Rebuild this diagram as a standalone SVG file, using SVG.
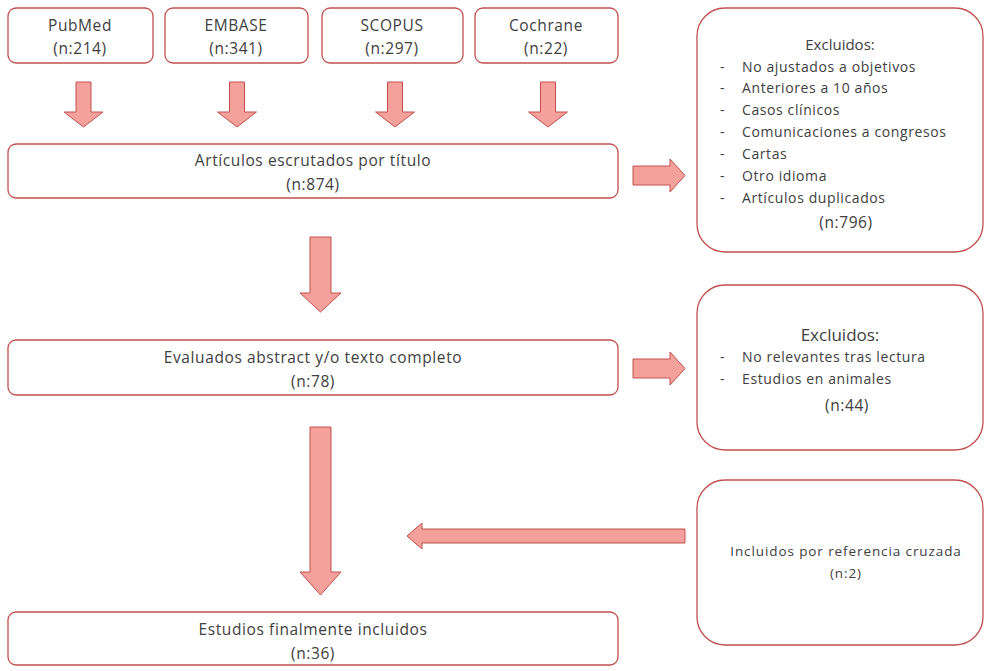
<svg xmlns="http://www.w3.org/2000/svg" width="987" height="671" viewBox="0 0 987 671">
<style>
.box{fill:#fff;stroke:#c0504d;stroke-width:1.3}
.arr{fill:#f4a19c;stroke:#c0504d;stroke-width:1}
text{font-family:"Open Sans","Liberation Sans",sans-serif;fill:#404040;text-anchor:middle}
.t{font-size:15.5px;letter-spacing:0.6px}
.e{font-size:15px}
.s{font-size:14px;letter-spacing:0.6px;text-anchor:start}
.h{font-size:17px}
.x{font-size:13.5px;letter-spacing:0.9px}
</style>
<rect width="987" height="671" fill="#fff"/>
<g id="pubmed"><rect class="box" x="8" y="8" width="145" height="55" rx="8"/><text class="t" x="80" y="31">PubMed</text><text class="t" x="80" y="54">(n:214)</text></g>
<g id="embase"><rect class="box" x="165" y="8" width="143" height="55" rx="8"/><text class="t" x="236" y="31">EMBASE</text><text class="t" x="236" y="54">(n:341)</text></g>
<g id="scopus"><rect class="box" x="322" y="8" width="141" height="55" rx="8"/><text class="t" x="392" y="31">SCOPUS</text><text class="t" x="392" y="54">(n:297)</text></g>
<g id="cochrane"><rect class="box" x="475" y="8" width="143" height="55" rx="8"/><text class="t" x="546" y="31">Cochrane</text><text class="t" x="546" y="54">(n:22)</text></g>
<g id="escrutados"><rect class="box" x="8" y="144" width="610" height="54" rx="8"/><text class="t" x="313" y="166">Artículos escrutados por título</text><text class="t" x="313" y="190">(n:874)</text></g>
<g id="excluidos1"><rect class="box" x="697" y="8" width="286" height="244" rx="28"/>
<text class="e" x="840" y="50">Excluidos:</text>
<text class="s" x="720" y="72">-</text><text class="s" x="742" y="72">No ajustados a objetivos</text>
<text class="s" x="720" y="93">-</text><text class="s" x="742" y="93">Anteriores a 10 años</text>
<text class="s" x="720" y="115">-</text><text class="s" x="742" y="115">Casos clínicos</text>
<text class="s" x="720" y="137">-</text><text class="s" x="742" y="137">Comunicaciones a congresos</text>
<text class="s" x="720" y="159">-</text><text class="s" x="742" y="159">Cartas</text>
<text class="s" x="720" y="181">-</text><text class="s" x="742" y="181">Otro idioma</text>
<text class="s" x="720" y="203">-</text><text class="s" x="742" y="203">Artículos duplicados</text>
<text class="t" x="846" y="228">(n:796)</text></g>
<g id="evaluados"><rect class="box" x="8" y="340" width="610" height="55" rx="8"/><text class="t" x="313" y="363">Evaluados abstract y/o texto completo</text><text class="t" x="313" y="387">(n:78)</text></g>
<g id="excluidos2"><rect class="box" x="697" y="285" width="286" height="165" rx="28"/>
<text class="h" x="840" y="341">Excluidos:</text>
<text class="s" x="720" y="362">-</text><text class="s" x="742" y="362">No relevantes tras lectura</text>
<text class="s" x="720" y="384">-</text><text class="s" x="742" y="384">Estudios en animales</text>
<text class="t" x="847" y="411">(n:44)</text></g>
<g id="cruzada"><rect class="box" x="697" y="480" width="286" height="165" rx="28"/><text class="x" x="846" y="556">Incluidos por referencia cruzada</text><text class="x" x="846" y="578">(n:2)</text></g>
<g id="finales"><rect class="box" x="8" y="612" width="610" height="53" rx="8"/><text class="t" x="313" y="635">Estudios finalmente incluidos</text><text class="t" x="313" y="659">(n:36)</text></g>
<g id="connectors">
<path class="arr" d="M76,82h15v30h12l-19.5,15l-19.5,-15h12z"/>
<path class="arr" d="M229.5,82h15v30h12l-19.5,15l-19.5,-15h12z"/>
<path class="arr" d="M387.5,82h15v30h12l-19.5,15l-19.5,-15h12z"/>
<path class="arr" d="M540.5,82h15v30h12l-19.5,15l-19.5,-15h12z"/>
<path class="arr" d="M633,166h37v-7l15,16.5l-15,16.5v-7h-37z"/>
<path class="arr" d="M310,237h21v56h10l-20.5,19l-20.5,-19h10z"/>
<path class="arr" d="M633,359h37v-7l15,16.5l-15,16.5v-7h-37z"/>
<path class="arr" d="M310,427h21v145h10l-20.5,23l-20.5,-23h10z"/>
<path class="arr" d="M685,529v14h-263v6l-15,-13l15,-13v6z"/>
</g>
</svg>
